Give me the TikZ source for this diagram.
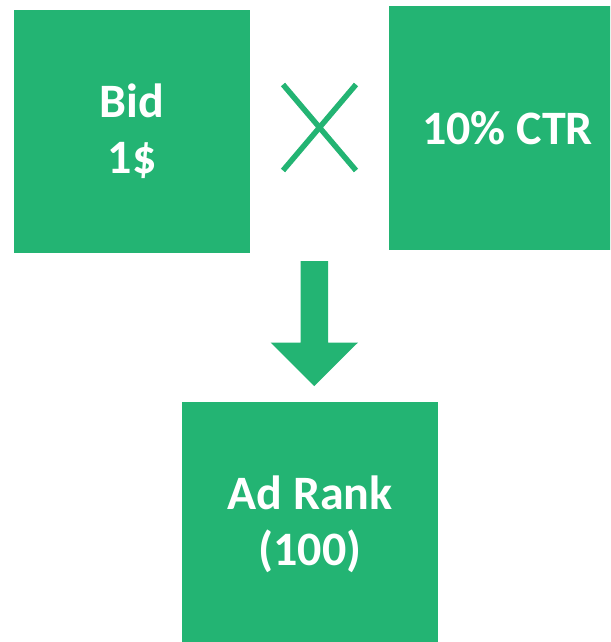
\documentclass[tikz,border=0pt]{standalone}
\usepackage{fontspec}
\setmainfont{Carlito}
\definecolor{adgreen}{RGB}{35,180,115}
\begin{document}
\begin{tikzpicture}[x=1pt,y=-1pt,
  box/.style={fill=adgreen, draw=none, inner sep=0pt, outer sep=0pt, align=center,
    text=white, font=\bfseries\fontsize{48}{56}\selectfont},
  crossline/.style={draw=adgreen, line width=5.5pt}]
\useasboundingbox (0,0) rectangle (610,642);
\begin{scope}
\clip (0,0) rectangle (610,642);
\node[box, minimum width=236pt, minimum height=243pt] (bid) at (132,131.5) {Bid\\1\$};
\node[box, minimum width=237pt, minimum height=244pt] (ctr) at (507.5,128) {10\% CTR};
\node[box, minimum width=256pt, minimum height=244pt] (rank) at (310,524) {Ad Rank\\(100)};
\end{scope}
\coordinate (xa) at (283,84.5);
\coordinate (xb) at (356,170.5);
\coordinate (xc) at (283,170.5);
\coordinate (xd) at (356,84.5);
\draw[crossline] (xa) -- (xb);
\draw[crossline] (xc) -- (xd);
\fill[adgreen] (300.5,261) -- (328,261) -- (328,342.5) -- (358,342.5) -- (314.25,386) -- (270.5,342.5) -- (300.5,342.5) -- cycle;
\end{tikzpicture}
\end{document}
